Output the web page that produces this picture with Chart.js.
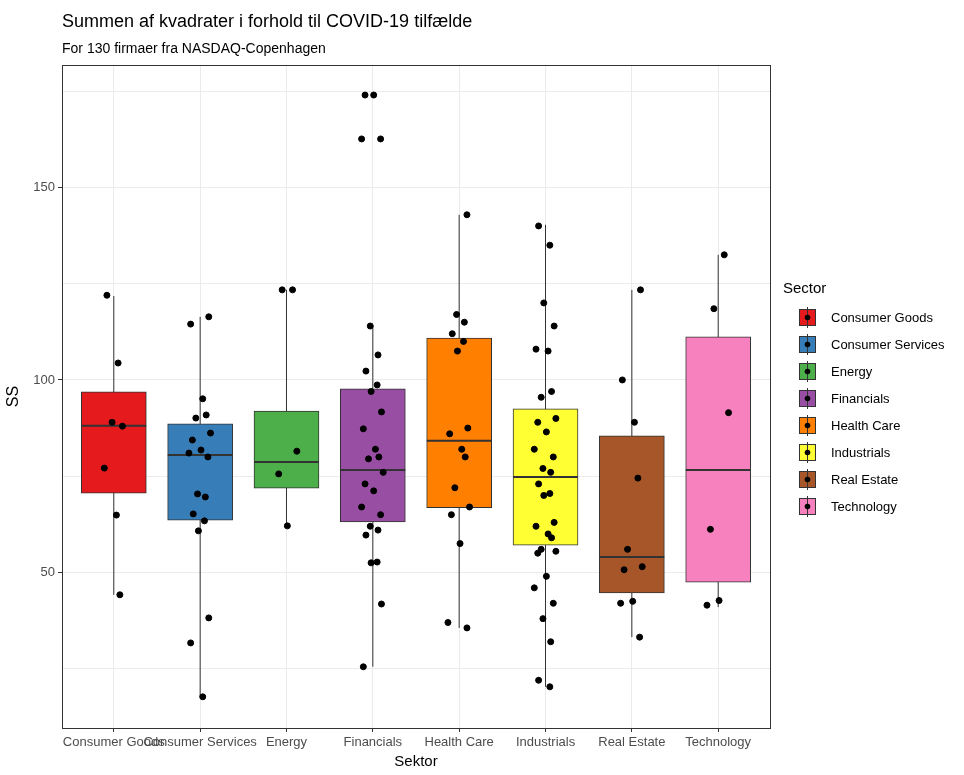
<!DOCTYPE html>
<html>
<head>
  <script src="https://cdn.jsdelivr.net/npm/chart.js"></script>
  <style>
    body { margin: 0; background: #fff; }
  </style>
</head>
<body>
  <canvas id="ssChart" width="964" height="775"></canvas>
  <script>
    const sectors = ["Consumer Goods", "Consumer Services", "Energy", "Financials", "Health Care", "Industrials", "Real Estate", "Technology"];
    const colors = ["#E41A1C", "#377EB8", "#4DAF4A", "#984EA3", "#FF7F00", "#FFFF33", "#A65628", "#F781BF"];

    // box stats: lower whisker, q1, median, q3, upper whisker
    const whiskerLow = [44.2, 17.7, 62.1, 25.5, 35.6, 20.3, 33.2, 41.0];
    const q1 = [70.6, 63.6, 71.9, 63.1, 66.8, 57.1, 44.7, 47.5];
    const median = [88.1, 80.5, 78.7, 76.6, 84.2, 74.8, 54.0, 76.6];
    const q3 = [96.9, 88.6, 91.9, 97.7, 110.9, 92.5, 85.5, 111.2];
    const whiskerHigh = [121.8, 116.4, 123.4, 114.0, 142.9, 140.3, 123.4, 132.5];

    const firmValues = [
      [122, 104.4, 89, 88, 77.1, 64.9, 44.2],
      [116.4, 114.5, 95.1, 90.9, 90.1, 86.2, 84.4, 81.8, 81, 80, 70.4, 69.6, 65.2, 63.4, 60.8, 38.2, 31.7, 17.7],
      [123.4, 123.4, 81.5, 75.6, 62.1],
      [174, 174, 162.6, 162.6, 114, 106.5, 102.3, 98.7, 97, 91.7, 87.3, 82, 80, 79.5, 76, 73, 71.2, 67, 65, 62, 61, 59.7, 52.7, 52.5, 41.8, 25.5],
      [142.9, 117, 115, 112, 110, 107.5, 87.5, 86, 82, 80, 72, 67, 65, 57.5, 37, 35.6],
      [140, 135, 120, 114, 108, 107.5, 97, 95.5, 90, 89, 86.5, 82, 80, 77, 76, 73, 70.5, 70, 63, 62, 60, 59, 56, 55.5, 55, 49, 46, 42, 38, 32, 22, 20.3],
      [123.4, 100, 89, 74.5, 56, 51.5, 50.7, 42.5, 42, 33.2],
      [132.5, 118.5, 91.5, 61.2, 42.7, 41.5]
    ];
    const jitter = [-0.08, 0.05, -0.02, 0.1, -0.11, 0.03, 0.07, -0.05, 0.12, -0.09, 0.01, -0.13, 0.09, -0.03, 0.06];

    const yTicks = [25, 50, 75, 100, 125, 150, 175];
    const yLabels = [50, 100, 150];

    const boxData = sectors.map((s, i) => ({ x: i + 1, y: [q1[i], q3[i]] }));
    const whiskerData = [];
    const medianData = [];
    sectors.forEach((s, i) => {
      whiskerData.push({ x: i + 1, y: whiskerLow[i] }, { x: i + 1, y: whiskerHigh[i] }, { x: i + 1, y: null });
      medianData.push({ x: i + 1 - 0.375, y: median[i] }, { x: i + 1 + 0.375, y: median[i] }, { x: i + 1, y: null });
    });
    const pointData = [];
    firmValues.forEach((vals, i) => {
      vals.forEach((v, k) => pointData.push({ x: i + 1 + jitter[(k + i * 3) % jitter.length], y: v }));
    });

    const decor = {
      id: "decor",
      afterDraw(chart) {
        const { ctx, chartArea } = chart;
        ctx.save();
        ctx.strokeStyle = "#333";
        ctx.lineWidth = 1;
        ctx.strokeRect(chartArea.left + 0.5, chartArea.top + 0.5, chartArea.right - chartArea.left, chartArea.bottom - chartArea.top);
        ctx.fillStyle = "#000";
        ctx.textBaseline = "alphabetic";
        ctx.font = "18px 'Liberation Sans', Arial";
        ctx.fillText("Summen af kvadrater i forhold til COVID-19 tilfælde", chartArea.left, 27);
        ctx.font = "14px 'Liberation Sans', Arial";
        ctx.fillText("For 130 firmaer fra NASDAQ-Copenhagen", chartArea.left, 53);
        // legend
        ctx.font = "15px 'Liberation Sans', Arial";
        ctx.fillText("Sector", 783, 293);
        ctx.font = "13px 'Liberation Sans', Arial";
        sectors.forEach((s, i) => {
          const cy = 317 + i * 27;
          ctx.fillStyle = colors[i];
          ctx.fillRect(799, cy - 8, 17, 17);
          ctx.strokeStyle = "#333";
          ctx.strokeRect(799.5, cy - 7.5, 16, 16);
          ctx.beginPath();
          ctx.moveTo(807.5, cy - 10);
          ctx.lineTo(807.5, cy + 11);
          ctx.stroke();
          ctx.fillStyle = "#000";
          ctx.beginPath();
          ctx.arc(807.5, cy + 0.5, 2.8, 0, Math.PI * 2);
          ctx.fill();
          ctx.textBaseline = "middle";
          ctx.fillText(s, 831, cy + 1);
        });
        ctx.restore();
      }
    };

    new Chart(document.getElementById("ssChart").getContext("2d"), {
      data: {
        datasets: [
          { type: "scatter", data: pointData, backgroundColor: "#000", borderColor: "#000", pointRadius: 3, order: 0 },
          { type: "line", data: medianData, borderColor: "#333", borderWidth: 2, pointRadius: 0, spanGaps: false, order: 1 },
          { type: "bar", data: boxData, backgroundColor: colors, borderColor: "#333", borderWidth: 1, borderSkipped: false, barThickness: 65, order: 2 },
          { type: "line", data: whiskerData, borderColor: "#333", borderWidth: 1, pointRadius: 0, spanGaps: false, order: 3 }
        ]
      },
      options: {
        responsive: false,
        animation: false,
        layout: { padding: { top: 65, right: 194, left: 0, bottom: 0 } },
        plugins: { legend: { display: false }, tooltip: { enabled: false } },
        scales: {
          x: {
            type: "linear", min: 0.4, max: 8.6, offset: false,
            afterFit: s => { s.height = 47; },
            afterBuildTicks: s => { s.ticks = sectors.map((c, i) => ({ value: i + 1 })); },
            ticks: { autoSkip: false, maxRotation: 0, color: "#4d4d4d", font: { size: 13, family: "'Liberation Sans', Arial" }, callback: v => sectors[v - 1] },
            grid: { offset: false, color: "#ebebeb", tickColor: "#333", tickLength: 4 },
            border: { display: false },
            title: { display: true, text: "Sektor", color: "#000", padding: { top: 0 }, font: { size: 15, family: "'Liberation Sans', Arial" } }
          },
          y: {
            min: 9.6, max: 181.8,
            afterFit: s => { s.width = 62; },
            afterBuildTicks: s => { s.ticks = yTicks.map(v => ({ value: v })); },
            ticks: { color: "#4d4d4d", font: { size: 13, family: "'Liberation Sans', Arial" }, callback: v => yLabels.includes(v) ? v : "" },
            grid: { color: "#ebebeb", tickColor: c => yLabels.includes(c.tick.value) ? "#333" : "rgba(0,0,0,0)", tickLength: 4 },
            border: { display: false },
            title: { display: true, text: "SS", color: "#000", font: { size: 16, family: "'Liberation Sans', Arial" } }
          }
        }
      },
      plugins: [decor]
    });
  </script>
</body>
</html>
